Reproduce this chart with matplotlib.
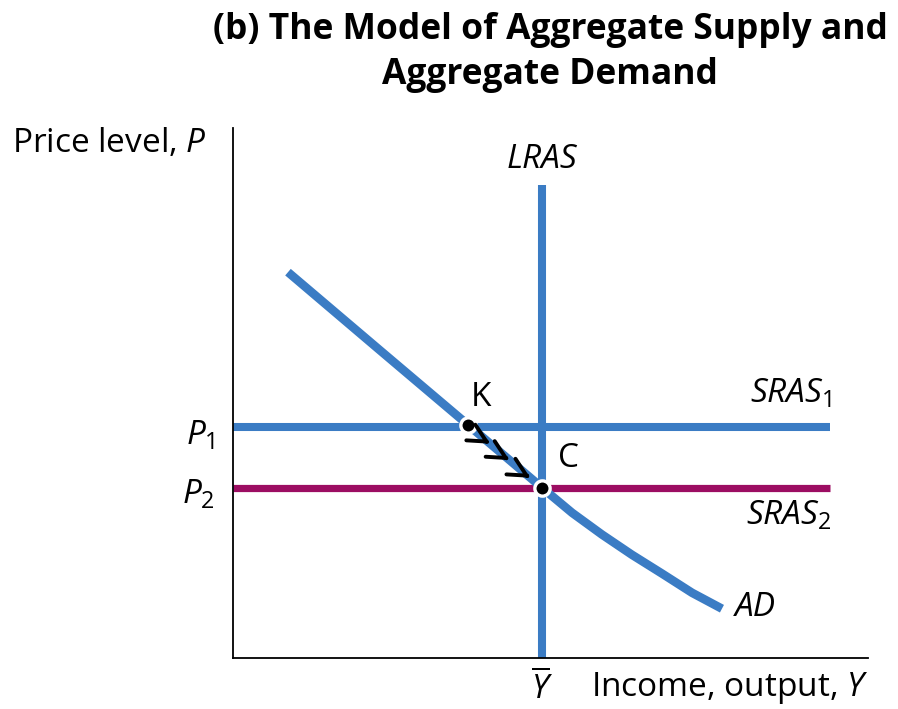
import numpy as np
import matplotlib.pyplot as plt
from matplotlib import rcParams

rcParams['font.family'] = ['Open Sans', 'DejaVu Sans']
rcParams['mathtext.fontset'] = 'custom'
rcParams['mathtext.rm'] = 'Open Sans'
rcParams['mathtext.it'] = 'Open Sans:italic'

# values (axis units 0-100)
lras_x = 48.7
lras_top = 89.2
p1 = 43.6
p2 = 32.1
sras_end = 94.0
ad_x = [8.66, 23.1, 37.0, 48.7, 53.4, 58.1, 62.8, 67.6, 72.3, 77.0]
ad_y = [72.8, 58.1, 44.0, 32.1, 27.4, 23.3, 19.5, 15.9, 12.3, 9.3]
pt_k = (37.0, 44.0)
pt_c = (48.7, 32.1)
arrow_t = [0.30, 0.56, 0.84]

blue = '#3b7cc4'
magenta = '#9c0d62'

W, H = 898, 709
fig = plt.figure(figsize=(W / 100, H / 100), dpi=100)
ax = fig.add_axes([233 / W, 1 - 658 / H, (868 - 233) / W, (658 - 128) / H])
ax.set_xlim(0, 100)
ax.set_ylim(0, 100)
ax.set_xticks([])
ax.set_yticks([])
for s in ['top', 'right']:
    ax.spines[s].set_visible(False)
for s in ['left', 'bottom']:
    ax.spines[s].set_linewidth(1.3)

ax.plot([lras_x, lras_x], [0, lras_top], color=blue, lw=5.8, solid_capstyle='butt', zorder=2)
ax.plot([0, sras_end], [p1, p1], color=blue, lw=5.8, solid_capstyle='butt', zorder=2)
ax.plot([0, sras_end], [p2, p2], color=magenta, lw=5.2, solid_capstyle='butt', zorder=2)
ax.plot(ad_x, ad_y, color=blue, lw=6.2, solid_capstyle='butt', solid_joinstyle='round', zorder=3)

for pt in [pt_k, pt_c]:
    ax.plot(*pt, 'o', ms=11, mfc='black', mec='white', mew=2.4, zorder=5)

# chevron arrows from K down to C
ang = np.radians(-30)
dx, dy = 0.5 * np.cos(ang) / 0.635, 0.5 * np.sin(ang) / 0.53
for t in arrow_t:
    x0 = pt_k[0] + (pt_c[0] - pt_k[0]) * t
    y0 = pt_k[1] + (pt_c[1] - pt_k[1]) * t
    ax.annotate('', xy=(x0, y0), xytext=(x0 - dx, y0 - dy),
                arrowprops=dict(arrowstyle='->,head_length=1.3,head_width=0.65',
                                color='black', lw=2.8, shrinkA=0, shrinkB=0), zorder=6)

fs = 24
ax.text(lras_x, 94.0, 'LRAS', style='italic', fontsize=fs, ha='center', va='center')
ax.text(94.3, 48.1, r'$SRAS_{\mathrm{1}}$', fontsize=fs, ha='right', va='baseline')
ax.text(94.3, 25.1, r'$SRAS_{\mathrm{2}}$', fontsize=fs, ha='right', va='baseline')
ax.text(79.1, 9.6, 'AD', style='italic', fontsize=fs, ha='left', va='center')
ax.text(39.1, 49.2, 'K', fontsize=fs, ha='center', va='center')
ax.text(52.9, 37.7, 'C', fontsize=fs, ha='center', va='center')
ax.text(-2.8, 40.2, r'$P_{\mathrm{1}}$', fontsize=fs, ha='right', va='baseline')
ax.text(-2.8, 29.2, r'$P_{\mathrm{2}}$', fontsize=fs, ha='right', va='baseline')
ax.text(lras_x, -5.7, r'$\overline{Y}$', fontsize=fs, ha='center', va='center')
ax.text(100, -5.7, r'Income, output, $Y$', fontsize=fs, ha='right', va='center')
fig.text(12 / W, 1 - 143 / H, r'Price level, $P$', fontsize=fs, ha='left', va='center')

fig.text(550 / W, 1 - 30 / H, '(b) The Model of Aggregate Supply and', fontsize=25.5,
         fontweight='bold', ha='center', va='center')
fig.text(550 / W, 1 - 75 / H, 'Aggregate Demand', fontsize=25.5,
         fontweight='bold', ha='center', va='center')

fig.savefig('out.png', dpi=100)
